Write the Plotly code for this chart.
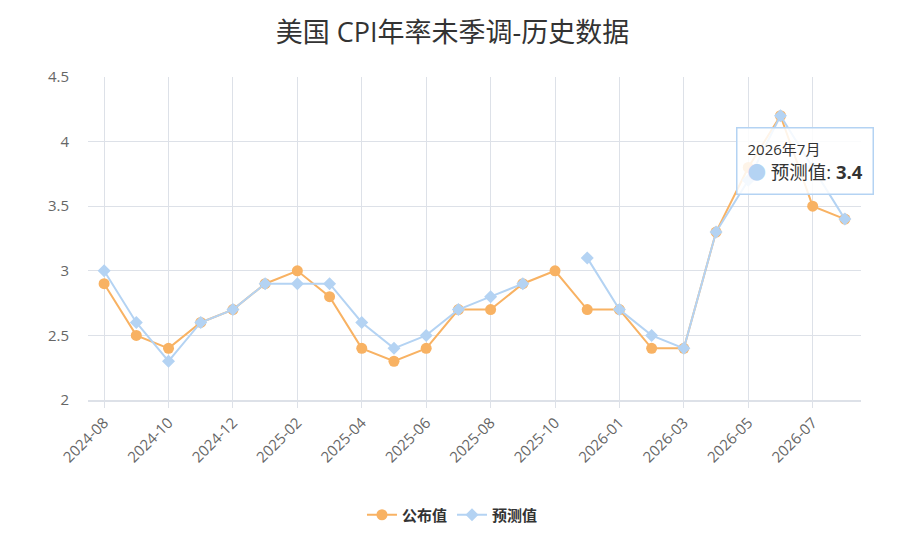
import plotly.graph_objects as go

# 月份（2025-11 无数据）
months = [
    "2024-08", "2024-09", "2024-10", "2024-11", "2024-12",
    "2025-01", "2025-02", "2025-03", "2025-04", "2025-05", "2025-06",
    "2025-07", "2025-08", "2025-09", "2025-10", "2025-12",
    "2026-01", "2026-02", "2026-03", "2026-04", "2026-05", "2026-06",
    "2026-07", "2026-08",
]
actual = [2.9, 2.5, 2.4, 2.6, 2.7, 2.9, 3.0, 2.8, 2.4, 2.3, 2.4, 2.7,
          2.7, 2.9, 3.0, 2.7, 2.7, 2.4, 2.4, 3.3, 3.8, 4.2, 3.5, 3.4]
forecast = [3.0, 2.6, 2.3, 2.6, 2.7, 2.9, 2.9, 2.9, 2.6, 2.4, 2.5, 2.7,
            2.8, 2.9, None, 3.1, 2.7, 2.5, 2.4, 3.3, 3.7, 4.2, 3.8, 3.4]
y_ticks = [2, 2.5, 3, 3.5, 4, 4.5]

orange = "#f8b263"
blue = "#b4d3f3"
grid = "#dde1e8"
font_family = "Open Sans, Noto Sans CJK SC, sans-serif"

fig = go.Figure()
fig.add_trace(go.Scatter(
    x=months, y=actual, name="公布值", mode="lines+markers",
    line=dict(color=orange, width=2),
    marker=dict(symbol="circle", size=11, color=orange),
))
fig.add_trace(go.Scatter(
    x=months, y=forecast, name="预测值", mode="lines+markers",
    connectgaps=False,
    line=dict(color=blue, width=2),
    marker=dict(symbol="diamond", size=10, color=blue),
))

# 悬停提示框（静态）
fig.add_annotation(
    xref="paper", yref="paper", x=0.838, y=0.845,
    xanchor="left", yanchor="top", align="left",
    text=("<span style='font-size:15px'>2026年7月</span><br>"
          "<span style='color:#b4d3f3'>●</span> "
          "预测值: <b>3.4</b>"),
    showarrow=False,
    bgcolor="rgba(255,255,255,0.85)",
    bordercolor="#b4d3f3", borderwidth=1.5, borderpad=10,
    font=dict(family=font_family, size=18.5, color="#333333"),
)

fig.update_layout(
    width=889, height=541,
    margin=dict(l=80, r=36, t=69, b=149, autoexpand=False),
    paper_bgcolor="white", plot_bgcolor="white",
    font=dict(family=font_family, color="#666666"),
    title=dict(text="美国 CPI年率未季调-历史数据", x=0.5, xanchor="center",
               y=0.954, yanchor="middle",
               font=dict(size=27, color="#333333", family=font_family)),
    showlegend=True,
    legend=dict(orientation="h", x=0.4715, xanchor="center",
                y=-0.356, yanchor="middle",
                font=dict(size=15, color="#333333", family=font_family,
                          weight="bold")),
    hovermode="closest",
)
fig.update_xaxes(
    type="category", categoryorder="array", categoryarray=months,
    range=[-0.5, len(months) - 0.5],
    tickvals=months[::2], ticktext=months[::2], tickangle=-45,
    showgrid=True, gridcolor=grid, gridwidth=1,
    showline=True, linecolor=grid, linewidth=2,
    ticks="outside", ticklen=6, tickcolor=grid,
    tickfont=dict(size=15, color="#666666"),
    zeroline=False,
)
fig.update_yaxes(
    range=[2, 4.5], tickvals=y_ticks,
    ticktext=[f"{v:g}" for v in y_ticks],
    showgrid=True, gridcolor=grid, gridwidth=1,
    tickfont=dict(size=15, color="#666666"),
    ticks="", zeroline=False, ticklabelstandoff=18,
)

fig.write_html("out.html")
